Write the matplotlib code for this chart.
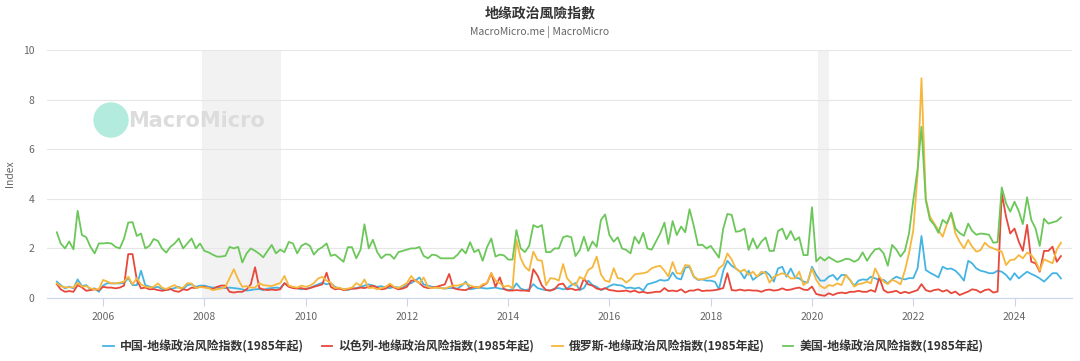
import matplotlib
matplotlib.use("Agg")
import matplotlib.pyplot as plt
import matplotlib.dates as mdates
from matplotlib.patches import Ellipse
import pandas as pd

plt.rcParams['font.family'] = ['Noto Sans CJK SC', 'DejaVu Sans']

# monthly data, Feb 2005 .. Dec 2024
start_month = '2005-02-01'

china = [
    0.66, 0.52, 0.39, 0.46, 0.39, 0.75, 0.48, 0.52, 0.35, 0.39, 0.25,            # 2005
    0.5, 0.6, 0.59, 0.59, 0.59, 0.6, 0.8, 0.52, 0.52, 1.1, 0.52, 0.46,           # 2006
    0.42, 0.45, 0.36, 0.32, 0.36, 0.4, 0.45, 0.36, 0.52, 0.55, 0.45, 0.5,        # 2007
    0.5, 0.45, 0.42, 0.42, 0.4, 0.4, 0.42, 0.4, 0.38, 0.35, 0.3, 0.32,           # 2008
    0.35, 0.36, 0.32, 0.38, 0.4, 0.42, 0.4, 0.6, 0.48, 0.42, 0.4, 0.35,          # 2009
    0.38, 0.4, 0.48, 0.55, 0.62, 0.55, 0.6, 0.45, 0.38, 0.36, 0.32, 0.38,        # 2010
    0.4, 0.45, 0.5, 0.55, 0.5, 0.45, 0.48, 0.42, 0.4, 0.45, 0.42, 0.4,           # 2011
    0.55, 0.6, 0.7, 0.83, 0.55, 0.5, 0.45, 0.42, 0.4, 0.38, 0.4, 0.4,            # 2012
    0.38, 0.5, 0.66, 0.35, 0.38, 0.42, 0.4, 0.38, 0.4, 0.42, 0.38, 0.36,         # 2013
    0.32, 0.35, 0.59, 0.38, 0.32, 0.35, 0.56, 0.4, 0.35, 0.32, 0.3, 0.38,        # 2014
    0.4, 0.35, 0.38, 0.52, 0.6, 0.32, 0.4, 0.7, 0.52, 0.45, 0.32, 0.38,          # 2015
    0.48, 0.55, 0.52, 0.5, 0.4, 0.42, 0.38, 0.42, 0.3, 0.55, 0.6, 0.65,          # 2016
    0.73, 0.7, 0.73, 1.03, 0.8, 0.75, 1.23, 1.25, 0.85, 0.73, 0.75, 0.7,         # 2017
    0.7, 0.65, 0.35, 1.1, 1.5, 1.3, 1.19, 1.06, 0.79, 1.1, 0.73, 0.86,           # 2018
    0.97, 1.06, 0.93, 0.66, 1.19, 1.26, 0.86, 1.19, 0.83, 0.79, 0.66, 0.62,      # 2019
    1.26, 0.93, 0.7, 0.7, 0.86, 0.93, 0.73, 0.93, 0.93, 0.73, 0.49, 0.7,         # 2020
    0.75, 0.73, 0.86, 0.79, 0.73, 0.73, 0.59, 0.75, 0.86, 0.79, 0.75, 0.8,       # 2021
    0.8, 1.2, 2.5, 1.13, 1.02, 0.93, 0.83, 1.26, 1.17, 1.19, 1.1, 0.93,          # 2022
    0.7, 1.5, 1.4, 1.19, 1.1, 1.06, 1.0, 1.0, 1.1, 1.06, 0.93, 0.73,             # 2023
    1.0, 0.79, 0.93, 1.06, 0.97, 0.89, 0.79, 0.66, 0.83, 1.0, 1.0, 0.79,         # 2024
]

israel = [
    0.56, 0.35, 0.25, 0.28, 0.25, 0.52, 0.43, 0.29, 0.32, 0.35, 0.32,
    0.45, 0.42, 0.42, 0.39, 0.42, 0.5, 1.77, 1.77, 0.73, 0.39, 0.42, 0.35,
    0.36, 0.32, 0.29, 0.32, 0.36, 0.28, 0.25, 0.35, 0.32, 0.42, 0.4, 0.45,
    0.45, 0.4, 0.36, 0.45, 0.5, 0.5, 0.25, 0.22, 0.25, 0.25, 0.35, 0.55,
    1.24, 0.4, 0.35, 0.32, 0.34, 0.32, 0.35, 0.6, 0.45, 0.4, 0.38, 0.4,
    0.35, 0.4, 0.45, 0.5, 0.55, 1.02, 0.45, 0.35, 0.38, 0.32, 0.35, 0.38,
    0.38, 0.42, 0.4, 0.45, 0.5, 0.42, 0.35, 0.38, 0.5, 0.42, 0.35, 0.38,
    0.45, 0.7, 0.72, 0.6, 0.45, 0.4, 0.42, 0.45, 0.5, 0.55, 0.97, 0.4,
    0.35, 0.33, 0.32, 0.4, 0.45, 0.42, 0.5, 0.6, 1.0, 0.45, 0.83, 0.36,
    0.3, 0.3, 0.32, 0.3, 0.3, 0.28, 1.16, 0.9, 0.5, 0.32, 0.3, 0.35,
    0.55, 0.58, 0.35, 0.38, 0.32, 0.35, 0.78, 0.55, 0.5, 0.38, 0.34, 0.4,
    0.32, 0.3, 0.27, 0.28, 0.3, 0.25, 0.3, 0.22, 0.25, 0.2, 0.22, 0.25,
    0.25, 0.4, 0.28, 0.3, 0.27, 0.35, 0.22, 0.3, 0.3, 0.35, 0.28, 0.3,
    0.3, 0.32, 0.35, 0.4, 1.0, 0.32, 0.3, 0.34, 0.3, 0.32, 0.3, 0.3,
    0.25, 0.32, 0.34, 0.3, 0.32, 0.39, 0.32, 0.34, 0.39, 0.42, 0.34, 0.32,
    0.46, 0.16, 0.12, 0.09, 0.19, 0.12, 0.19, 0.22, 0.19, 0.25, 0.25, 0.29,
    0.25, 0.25, 0.32, 0.25, 0.83, 0.32, 0.22, 0.25, 0.29, 0.19, 0.25, 0.2,
    0.26, 0.32, 0.56, 0.32, 0.26, 0.32, 0.35, 0.26, 0.32, 0.19, 0.26, 0.12,
    0.19, 0.26, 0.35, 0.32, 0.22, 0.32, 0.35, 0.22, 0.26, 4.22, 3.28, 2.6,
    2.8, 2.27, 1.9, 2.95, 1.46, 1.4, 1.06, 1.9, 1.9, 2.07, 1.46, 1.69,
]

russia = [
    0.59, 0.48, 0.43, 0.43, 0.43, 0.62, 0.46, 0.48, 0.39, 0.35, 0.35,
    0.73, 0.66, 0.59, 0.59, 0.62, 0.66, 0.86, 0.55, 0.8, 0.55, 0.46, 0.42,
    0.46, 0.59, 0.42, 0.36, 0.45, 0.52, 0.4, 0.42, 0.6, 0.58, 0.4, 0.45,
    0.42, 0.4, 0.32, 0.35, 0.38, 0.45, 0.8, 1.16, 0.75, 0.45, 0.48, 0.42,
    0.42, 0.6, 0.52, 0.5, 0.48, 0.55, 0.6, 0.89, 0.5, 0.45, 0.42, 0.5,
    0.45, 0.5, 0.6, 0.79, 0.85, 0.7, 0.62, 0.4, 0.42, 0.35, 0.38, 0.42,
    0.6, 0.5, 0.75, 0.4, 0.42, 0.35, 0.4, 0.45, 0.58, 0.45, 0.4, 0.5,
    0.6, 0.89, 0.7, 0.6, 0.83, 0.45, 0.4, 0.42, 0.4, 0.38, 0.45, 0.5,
    0.5, 0.55, 0.6, 0.5, 0.45, 0.42, 0.55, 0.6, 1.0, 0.7, 0.6, 0.45,
    0.5, 0.4, 2.34, 1.6, 1.26, 1.1, 1.87, 1.53, 1.5, 0.52, 0.8, 0.78,
    0.7, 1.37, 0.8, 0.6, 0.5, 0.85, 0.75, 1.13, 1.24, 1.67, 0.95, 0.7,
    0.65, 1.2, 0.8, 0.78, 0.62, 0.75, 0.95, 0.98, 1.0, 1.05, 1.2, 1.26,
    1.3, 1.1, 0.87, 1.45, 1.0, 0.98, 1.33, 1.3, 0.87, 0.75, 0.75, 0.8,
    0.85, 0.9, 1.2, 1.33, 1.8, 1.55, 1.19, 1.06, 1.15, 0.93, 1.06, 0.86,
    1.06, 1.0, 0.62, 0.86, 0.93, 1.0, 0.93, 0.79, 0.79, 1.06, 0.52, 0.66,
    1.19, 0.73, 0.49, 0.39, 0.52, 0.49, 0.59, 0.52, 0.93, 0.73, 0.46, 0.56,
    0.59, 0.66, 0.59, 1.19, 0.86, 0.66, 0.56, 0.73, 0.66, 0.55, 1.1, 1.8,
    2.74, 5.0, 8.86, 4.0, 3.28, 3.0, 2.74, 2.47, 3.0, 3.39, 2.6, 2.27,
    2.0, 2.34, 2.07, 1.87, 1.93, 2.23, 2.07, 2.0, 1.93, 1.87, 1.33, 1.53,
    1.55, 1.73, 1.6, 1.83, 1.73, 1.5, 1.1, 1.56, 1.48, 1.4, 1.96, 2.23,
]

usa = [
    2.65, 2.2, 2.0, 2.28, 1.96, 3.52, 2.54, 2.45, 2.07, 1.8, 2.2,
    2.2, 2.22, 2.2, 2.06, 2.0, 2.4, 3.04, 3.06, 2.5, 2.6, 2.0, 2.1,
    2.38, 2.3, 2.0, 1.83, 2.06, 2.2, 2.4, 2.0, 2.2, 2.4, 2.0, 2.2,
    1.9, 1.84, 1.75, 1.67, 1.67, 1.7, 2.06, 2.0, 2.06, 1.43, 1.8, 2.0,
    1.9, 1.78, 1.64, 1.9, 2.14, 1.8, 1.95, 1.85, 2.26, 2.2, 1.8, 2.1,
    2.2, 2.1, 1.75, 1.95, 2.05, 2.2, 1.7, 1.75, 1.6, 1.46, 2.05, 2.05,
    1.6, 1.95, 2.97, 2.0, 2.35, 1.85, 1.6, 1.75, 1.75, 1.58, 1.85, 1.9,
    1.95, 2.0, 2.0, 2.06, 1.7, 1.6, 1.75, 1.72, 1.6, 1.6, 1.6, 1.6,
    1.75, 1.97, 1.8, 2.25, 1.85, 1.95, 1.5, 2.05, 2.4, 1.67, 1.75, 1.72,
    1.55, 1.55, 2.74, 2.0, 1.85, 2.1, 2.94, 2.85, 2.94, 1.85, 1.85, 2.0,
    2.0, 2.45, 2.5, 2.45, 1.69, 1.93, 2.47, 1.9, 2.28, 2.06, 3.15, 3.37,
    2.54, 2.27, 2.45, 2.0, 1.94, 1.8, 2.47, 2.2, 2.63, 2.0, 1.95, 2.27,
    2.6, 3.04, 2.18, 3.1, 2.54, 2.88, 2.65, 3.58, 2.9, 2.13, 2.15, 2.0,
    2.1, 1.85, 1.63, 2.8, 3.39, 3.35, 2.67, 2.7, 2.8, 1.94, 2.4, 2.0,
    2.27, 2.44, 1.9, 1.9, 2.7, 2.8, 2.37, 2.7, 2.33, 2.45, 1.73, 1.73,
    3.66, 1.47, 1.65, 1.51, 1.65, 1.55, 1.45, 1.5, 1.58, 1.56, 1.46, 1.55,
    1.84, 1.5, 1.75, 1.96, 2.0, 1.8, 1.3, 2.14, 1.95, 1.67, 1.9, 2.6,
    3.95, 5.2, 6.9, 3.95, 3.15, 2.95, 2.63, 3.15, 3.0, 3.44, 2.8, 2.62,
    2.51, 3.0, 2.71, 2.55, 2.6, 2.58, 2.55, 2.23, 2.25, 4.46, 3.82, 3.48,
    3.88, 3.5, 2.98, 4.06, 3.15, 2.8, 2.1, 3.2, 3.0, 3.05, 3.1, 3.25,
]

labels = [
    '中国-地缘政治风险指数(1985年起)',
    '以色列-地缘政治风险指数(1985年起)',
    '俄罗斯-地缘政治风险指数(1985年起)',
    '美国-地缘政治风险指数(1985年起)',
]
colors = ['#45b4e3', '#e8483b', '#f6b73c', '#6cc75a']

# recession shading
recessions = [('2007-12-15', '2009-07-05'), ('2020-02-15', '2020-05-01')]

dates = pd.date_range(start_month, periods=len(usa), freq='MS')

fig = plt.figure(figsize=(10.8, 3.61), dpi=100)
ax = fig.add_axes([0.0435, 0.1745, 0.949, 0.687])

for a, b in recessions:
    ax.axvspan(pd.Timestamp(a), pd.Timestamp(b), color='#f2f2f2', lw=0, zorder=0)

for vals, c, lab in zip([china, israel, russia, usa], colors, labels):
    ax.plot(dates, vals, color=c, lw=1.3, label=lab, zorder=3)

ax.set_ylim(0, 10)
ax.set_yticks([0, 2, 4, 6, 8, 10])
ax.set_xlim(pd.Timestamp('2004-11-22'), pd.Timestamp('2025-02-18'))
ax.xaxis.set_major_locator(mdates.YearLocator(2))
ax.xaxis.set_major_formatter(mdates.DateFormatter('%Y'))

ax.grid(axis='y', color='#e6e6e6', lw=0.8)
ax.set_axisbelow(True)
for s in ['top', 'right', 'left']:
    ax.spines[s].set_visible(False)
ax.spines['bottom'].set_color('#ccd6eb')
ax.tick_params(axis='x', colors='#ccd6eb', length=6, width=0.8, labelcolor='#666666', labelsize=7.5, pad=4)
ax.tick_params(axis='y', length=0, labelcolor='#666666', labelsize=7.5, pad=9)
ax.set_ylabel('Index', color='#666666', fontsize=7.5, labelpad=6)

fig.text(0.5, 0.963, '地缘政治風險指數', ha='center', va='center', fontsize=10,
         fontweight='bold', color='#333333')
fig.text(0.5, 0.912, 'MacroMicro.me | MacroMicro', ha='center', va='center',
         fontsize=7.5, color='#666666')

# watermark
fig.patches.append(Ellipse((111 / 1080, 1 - 120 / 361), 34 / 1080, 34 / 361,
                           transform=fig.transFigure, color='#b3ebdf', zorder=1))
fig.text(128 / 1080, 1 - 121 / 361, 'MacroMicro', ha='left', va='center',
         fontsize=15, fontweight='bold', color='#dcdcdc', family='DejaVu Sans')

fig.legend(loc='center', bbox_to_anchor=(0.503, 0.04), ncol=4, frameon=False,
           handlelength=0.9, handletextpad=0.5, columnspacing=1.5,
           prop={'size': 8.6, 'weight': 'bold'}, labelcolor='#333333')

fig.savefig('out.png', dpi=100)
